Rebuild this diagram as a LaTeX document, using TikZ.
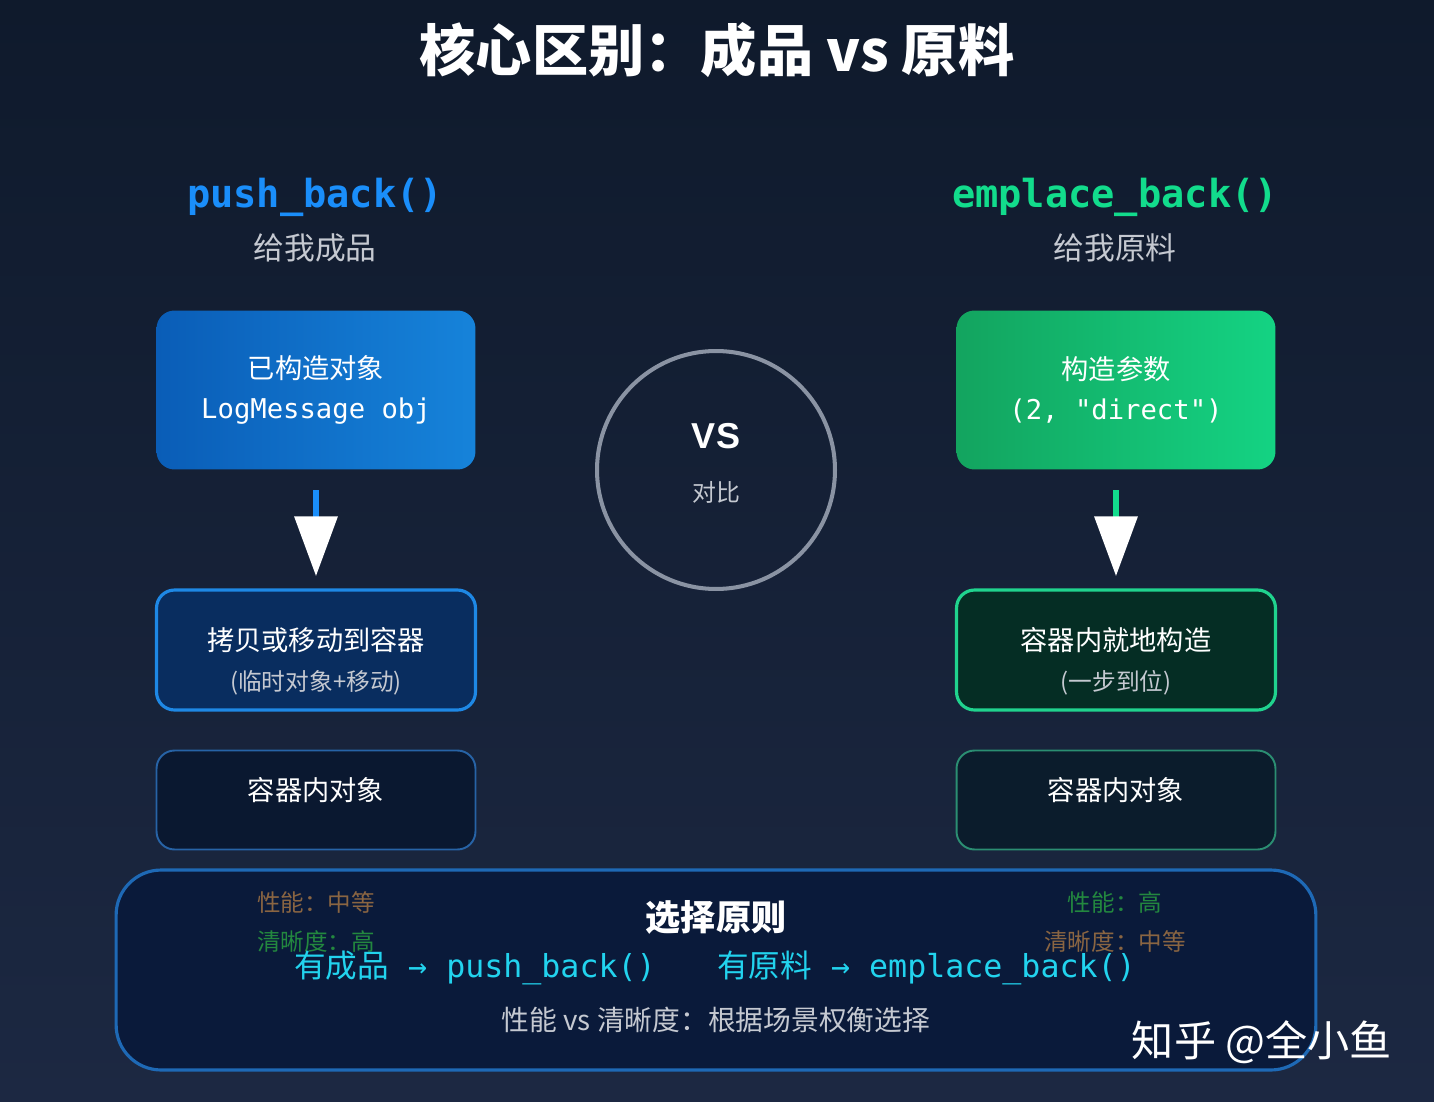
\documentclass[tikz,border=0pt]{standalone}
\usepackage{fontspec}
\setmainfont{Noto Sans CJK SC}
\setmonofont{DejaVu Sans Mono}
\newfontfamily\vsfont{Liberation Sans}
\usetikzlibrary{arrows.meta}
\definecolor{bgtop}{HTML}{0F1A2C}
\definecolor{bgbot}{HTML}{1C2842}
\definecolor{pushblue}{HTML}{1A8EFA}
\definecolor{empgreen}{HTML}{12DC8C}
\definecolor{subgray}{HTML}{C5C9D1}
\definecolor{circgray}{HTML}{8A93A3}
\definecolor{tealtxt}{HTML}{22D3EE}
\definecolor{browntxt}{HTML}{8A6542}
\definecolor{greentxt}{HTML}{23883F}
\definecolor{panelfill}{HTML}{0A1A3A}
\definecolor{panelblue}{HTML}{1E69B5}
\begin{document}
\begin{tikzpicture}[x=0.02cm, y=-0.02cm,
  box/.style={rounded corners=0.36cm, minimum width=6.38cm, align=center, text=white, font=\fontsize{15.5}{22.7}\selectfont},
  boxtext/.style={align=center, text=white, font=\fontsize{15.5}{22.7}\selectfont},
  flow/.style={line width=3.4pt, -{Triangle[color=white, width=24pt, length=34pt]}, shorten <=11.5pt, shorten >=7pt},
  codename/.style={font=\ttfamily\bfseries\fontsize{22}{26}\selectfont},
  subname/.style={text=subgray, font=\fontsize{17.5}{21}\selectfont},
  note/.style={font=\fontsize{13.4}{16}\selectfont}]
\fill[top color=bgtop, bottom color=bgbot] (0,0) rectangle (1434,1102);
\node[text=white, font=\fontsize{32}{38}\selectfont\bfseries] (title) at (717,50) {核心区别：成品 vs 原料};
\node[codename, text=pushblue] (pushname) at (315,197) {push\_back()};
\node[subname] (pushsub) at (315,248) {给我成品};
\node[codename, text=empgreen] (empname) at (1115,197) {emplace\_back()};
\node[subname] (empsub) at (1115,248) {给我原料};
\node[box, minimum height=3.18cm, left color={rgb,255:red,10;green,93;blue,183}, right color={rgb,255:red,22;green,131;blue,218}] (pushobj) at (316,390) {已构造对象\\\ttfamily LogMessage obj};
\node[box, minimum height=2.4cm, draw={rgb,255:red,30;green,136;blue,229}, line width=1.8pt, fill={rgb,255:red,9;green,45;blue,95}] (pushmove) at (316,650) {};
\node[boxtext] (pushmovetxt) at (316,661) {拷贝或移动到容器\\{\fontsize{13.5}{16}\selectfont\color{subgray}(临时对象+移动)}};
\node[box, minimum height=1.98cm, draw={rgb,255:red,39;green,99;blue,166}, line width=1.1pt, fill={rgb,255:red,10;green,24;blue,48}] (pushin) at (316,800) {};
\node[boxtext] (pushintxt) at (316,790) {容器内对象};
\draw[flow, pushblue] (pushobj) -- (pushmove);
\node[box, minimum height=3.18cm, left color={rgb,255:red,19;green,164;blue,95}, right color={rgb,255:red,20;green,211;blue,131}] (empargs) at (1116,390) {构造参数\\\ttfamily (2, "direct")};
\node[box, minimum height=2.4cm, draw={rgb,255:red,32;green,211;blue,142}, line width=1.8pt, fill={rgb,255:red,5;green,45;blue,36}] (empbuild) at (1116,650) {};
\node[boxtext] (empbuildtxt) at (1116,661) {容器内就地构造\\{\fontsize{13.5}{16}\selectfont\color{subgray}(一步到位)}};
\node[box, minimum height=1.98cm, draw={rgb,255:red,43;green,142;blue,114}, line width=1.1pt, fill={rgb,255:red,11;green,28;blue,44}] (empin) at (1116,800) {};
\node[boxtext] (empintxt) at (1116,790) {容器内对象};
\draw[flow, empgreen] (empargs) -- (empbuild);
\node[draw=circgray, line width=2.3pt, circle, minimum size=4.76cm, inner sep=0pt] (vsring) at (716,470) {};
\node[text=white, font=\vsfont\bfseries\fontsize{20.5}{24}\selectfont] (vstext) at (716,436) {VS};
\node[text=subgray, font=\fontsize{13.6}{16}\selectfont] (vssub) at (716,492) {对比};
\node[draw=panelblue, line width=1.8pt, fill=panelfill, rounded corners=0.9cm, minimum width=24cm, minimum height=4cm] (panel) at (716,970) {};
\node[note, text=browntxt] (pushperf) at (316,902) {性能：中等};
\node[note, text=greentxt] (pushclear) at (316,941) {清晰度：高};
\node[note, text=greentxt] (empperf) at (1115,902) {性能：高};
\node[note, text=browntxt] (empclear) at (1115,941) {清晰度：中等};
\node[text=white, font=\fontsize{20}{24}\selectfont\bfseries] (rulehead) at (716,917) {选择原则};
\node[text=tealtxt, font=\ttfamily\fontsize{18}{21}\selectfont] (ruleline) at (715,968) {{\rmfamily 有成品} → push\_back()\hspace{35pt}{\rmfamily 有原料} → emplace\_back()};
\node[text=subgray, font=\fontsize{15.8}{19}\selectfont] (rulenote) at (716,1020) {性能 vs 清晰度：根据场景权衡选择};
\node[text=white, font=\fontsize{24}{28}\selectfont] (mark) at (1262,1042) {知乎 @全小鱼};
\end{tikzpicture}
\end{document}
